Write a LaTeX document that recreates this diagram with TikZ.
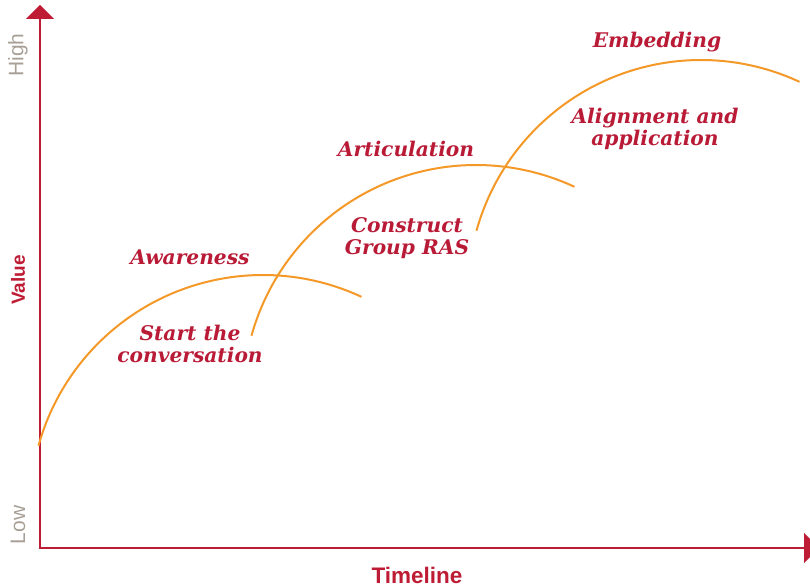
\documentclass[tikz,border=0pt]{standalone}
\usepackage{fontspec}
\setmainfont{DejaVu Serif}
\setsansfont{Liberation Sans}
\definecolor{axisred}{RGB}{190,28,52}
\definecolor{labelred}{RGB}{185,27,55}
\definecolor{curveorange}{RGB}{244,152,40}
\definecolor{axisgray}{RGB}{168,160,150}
\begin{document}
\begin{tikzpicture}[x=1pt,y=1pt,
  axisline/.style={draw=axisred,line width=2pt},
  axishead/.style={fill=axisred,draw=none},
  phase/.style={draw=curveorange,line width=2pt},
  stage/.style={text=labelred,inner sep=0pt,align=center,
    font=\fontsize{20.2}{22}\selectfont\bfseries\itshape},
  endlabel/.style={text=axisgray,inner sep=0pt,font=\sffamily\fontsize{21}{24}\selectfont},
  axislabel/.style={text=axisred,inner sep=0pt,font=\sffamily\bfseries\fontsize{19}{22}\selectfont}]
\useasboundingbox (0,0) rectangle (810,588);

% axes
\coordinate (O) at (40,40);
\coordinate (ybase) at (40,569);
\coordinate (xbase) at (804,40);
\draw[axisline] (ybase) -- (O) -- (xbase);
\fill[axishead] (26,569) -- (54,569) -- (40,583) -- cycle;
\fill[axishead] (804,25) -- (804,55) -- (819,40) -- cycle;

% axis labels
\node[endlabel,rotate=90] (high) at (18,533) {High};
\node[endlabel,rotate=90] (low) at (18,63) {Low};
\node[axislabel,rotate=90] (value) at (18,308) {Value};
\node[axislabel,font=\sffamily\bfseries\fontsize{22.5}{24}\selectfont] (timeline) at (417,13) {Timeline};

% three overlapping phase arcs, all of radius 233
\coordinate (c1) at (263,80);
\coordinate (c2) at (476,190);
\coordinate (c3) at (701,295);
\foreach \c in {c1,c2,c3}
  \draw[phase] (\c) ++(164.5:233) arc[start angle=164.5,end angle=65,radius=233];

% stage labels
\node[stage] (aware) at (190,331) {Awareness};
\node[stage] (start) at (190,244) {Start the\\conversation};
\node[stage] (artic) at (406,439) {Articulation};
\node[stage] (construct) at (407,350) {Construct\\Group RAS};
\node[stage] (embed) at (657,546) {Embedding};
\node[stage] (align) at (655,459) {Alignment and\\application};
\end{tikzpicture}
\end{document}
